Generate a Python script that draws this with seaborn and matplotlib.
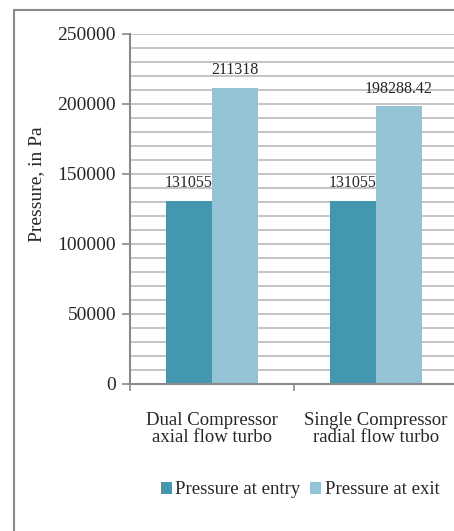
import matplotlib
matplotlib.use("Agg")
import matplotlib.pyplot as plt
from matplotlib.lines import Line2D
from matplotlib.patches import Patch
import numpy as np
import pandas as pd
import seaborn as sns

# Data
categories = ["Dual Compressor\naxial flow turbo", "Single Compressor\nradial flow turbo"]
series_names = ["Pressure at entry", "Pressure at exit"]
entry_values = [131055, 131055]
exit_values = [211318, 198288.42]
y_ticks = [0, 50000, 100000, 150000, 200000, 250000]

colors = ["#4398B0", "#93C3D5"]
grid_color = "#C4C4C4"
axis_color = "#8A8A8A"

df = pd.DataFrame({
    "category": categories * 2,
    "series": [series_names[0]] * 2 + [series_names[1]] * 2,
    "value": entry_values + exit_values,
})

sns.set_theme(style="white")
plt.rcParams["font.family"] = ["Liberation Serif", "DejaVu Serif"]

W, H = 454, 531
fig = plt.figure(figsize=(W / 100, H / 100), dpi=100)
ax = fig.add_axes([130 / W, (H - 384) / H, 328 / W, 350 / H])

sns.barplot(data=df, x="category", y="value", hue="series", order=categories,
            hue_order=series_names, palette=colors, width=0.56, gap=0,
            saturation=1, ax=ax, legend=False, errorbar=None, linewidth=0)

ax.set_xlim(-0.5, 1.5)
ax.set_ylim(0, 250000)

# Gridlines every 10000
ax.set_yticks(y_ticks)
ax.set_yticks(np.arange(0, 250001, 10000), minor=True)
ax.set_axisbelow(True)
ax.grid(axis="y", which="both", color=grid_color, linewidth=1.4)
ax.grid(axis="x", visible=False)
ax.set_yticklabels([str(t) for t in y_ticks], fontsize=14)
ax.tick_params(axis="y", which="major", direction="out", length=6, width=1.2,
               color=axis_color, pad=4, left=True)
ax.tick_params(axis="y", which="minor", length=0)

# Category ticks at the boundaries
ax.set_xticks(range(len(categories)))
ax.set_xticklabels(categories, fontsize=13.5, linespacing=1.05)
ax.set_xticks([-0.5, 0.5, 1.5], minor=True)
ax.tick_params(axis="x", which="major", length=0, pad=20)
ax.tick_params(axis="x", which="minor", direction="out", length=5, width=1.2,
               color=axis_color, bottom=True)

for side in ["top", "right"]:
    ax.spines[side].set_visible(False)
for side in ["left", "bottom"]:
    ax.spines[side].set_color(axis_color)
    ax.spines[side].set_linewidth(1.5)

ax.set_xlabel("")
ax.set_ylabel("Pressure, in Pa", fontsize=14)
ax.yaxis.set_label_coords(-0.259, 0.571)

# Value labels
def fmt(v):
    return f"{v:.2f}".rstrip("0").rstrip(".")

for container, vals in zip(ax.containers, [entry_values, exit_values]):
    ax.bar_label(container, labels=[fmt(v) for v in vals], padding=7, fontsize=11.5)

# Legend
handles = [Patch(facecolor=c, edgecolor="none") for c in colors]
fig.legend(handles, series_names, loc="center", bbox_to_anchor=(300 / W, 1 - 490 / H),
           ncol=2, frameon=False, fontsize=13.5, handlelength=0.58, handleheight=0.58,
           handletextpad=0.2, columnspacing=0.5, borderpad=0)

# Outer chart frame
fig.add_artist(Line2D([14 / W, 14 / W], [1 - 10 / H, 0], transform=fig.transFigure,
                      color=axis_color, linewidth=1.5))
fig.add_artist(Line2D([14 / W, 1], [1 - 10 / H, 1 - 10 / H], transform=fig.transFigure,
                      color=axis_color, linewidth=1.5))

fig.savefig("out.png", dpi=100)
